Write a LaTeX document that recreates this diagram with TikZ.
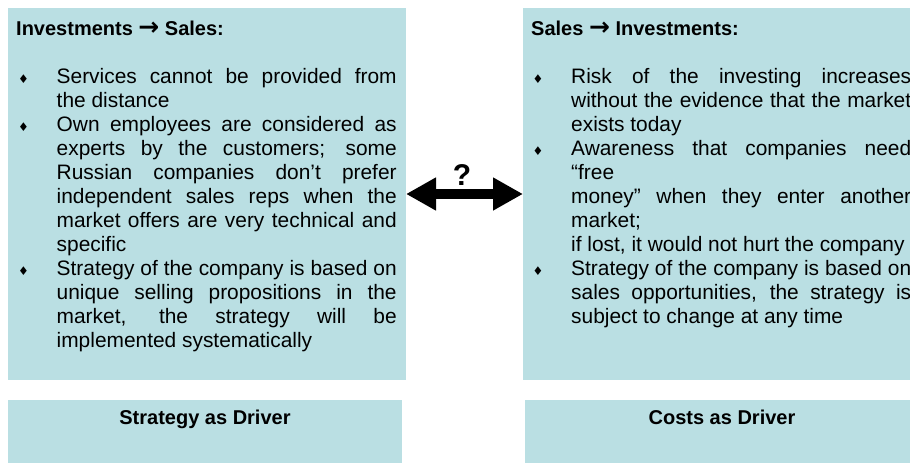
\documentclass[tikz,border=0pt]{standalone}
\usepackage{fontspec}
\setmainfont{Liberation Sans}
\newfontfamily\symfont{DejaVu Sans}
\usetikzlibrary{arrows.meta}
\definecolor{boxfill}{RGB}{186,223,227}
\newcommand{\bul}{\noindent\hangindent=39.5pt\hangafter=1\makebox[39.5pt][l]{\hspace{1pt}{\symfont\fontsize{12}{12}\selectfont ♦}}}
\newcommand{\harrow}{{\symfont\bfseries\fontsize{25}{24}\selectfont →}}
\newcommand{\bodysetup}{\fontsize{20.9}{24}\selectfont\tolerance=10000\hbadness=10000\hfuzz=3pt\hyphenpenalty=10000\exhyphenpenalty=10000}
\tikzset{
  box/.style={fill=boxfill, draw=none, inner sep=0pt, outer sep=0pt, anchor=north west},
  headtext/.style={font=\bfseries\fontsize{20}{24}\selectfont, inner sep=0pt, anchor=base west},
  bodytext/.style={inner sep=0pt, anchor=base west},
  drivertext/.style={font=\bfseries\fontsize{20}{24}\selectfont, inner sep=0pt, anchor=base},
  qtext/.style={font=\bfseries\fontsize{30}{30}\selectfont, inner sep=0pt, anchor=base},
  bigarrow/.style={line width=10pt, {Triangle[length=30pt,width=31pt]}-{Triangle[length=30pt,width=31pt]}}
}
\begin{document}
\begin{tikzpicture}[x=1pt,y=-1pt]
\useasboundingbox (0,0) rectangle (910,463);
\clip (0,0) rectangle (910,463);
% boxes
\node[box, minimum width=398pt, minimum height=372pt] (Ltop) at (8,8) {};
\node[box, minimum width=398pt, minimum height=372pt] (Rtop) at (523,8) {};
\node[box, minimum width=394pt, minimum height=80pt] (Lbot) at (8,400) {};
\node[box, minimum width=394pt, minimum height=80pt] (Rbot) at (525,400) {};
% titles
\node[headtext] (Lhead) at (16,35) {Investments \harrow{} Sales:};
\node[headtext] (Rhead) at (531,35) {Sales \harrow{} Investments:};
% body texts
\node[bodytext] (Lbody) at (17,83) {\parbox[t]{379.5pt}{\bodysetup
\bul Services cannot be provided from\linebreak the distance\par
\bul Own employees are considered as\linebreak experts by the customers; some\linebreak Russian companies don’t prefer\linebreak independent sales reps when the\linebreak market offers are very technical and\linebreak specific\par
\bul Strategy of the company is based on\linebreak unique selling propositions in the\linebreak market, the strategy will be\linebreak implemented systematically\par}};
\node[bodytext] (Rbody) at (531.5,83) {\parbox[t]{379.5pt}{\bodysetup
\bul Risk of the investing increases\linebreak without the evidence that the market\linebreak exists today\par
\bul Awareness that companies need\linebreak “free\\ money” when they enter another\linebreak market;\\ if lost, it would not hurt the company\par
\bul Strategy of the company is based on\linebreak sales opportunities, the strategy is\linebreak subject to change at any time\par}};
% driver labels
\coordinate (lb) at (0,424);
\node[drivertext] (Ldriver) at (Lbot.north |- lb) {Strategy as Driver};
\node[drivertext] (Rdriver) at (Rbot.north |- lb) {Costs as Driver};
% arrow
\draw[bigarrow] (Ltop.east) -- (Rtop.west);
\node[qtext] (q) at (462,185) {?};
\end{tikzpicture}
\end{document}
